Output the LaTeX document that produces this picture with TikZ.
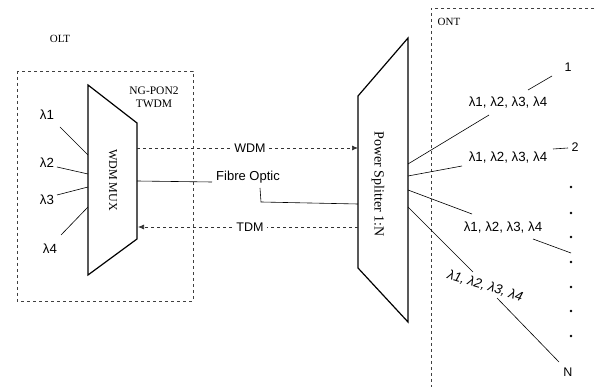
\documentclass[tikz,border=0pt]{standalone}
\usepackage{fontspec}
\setmainfont{Liberation Serif}
\setsansfont{Liberation Sans}
\usetikzlibrary{arrows.meta}
\begin{document}
\begin{tikzpicture}[x=1pt,y=-1pt,
 box/.style={draw=black!75,dashed,line width=0.7pt},
 dev/.style={draw,line width=1.2pt,line join=miter},
 thinline/.style={line width=0.6pt},
 sig/.style={draw=black!80,dashed,line width=0.7pt,-{Latex[length=6pt,width=5pt]}},
 lab/.style={font=\sffamily\fontsize{12.5}{12.5}\selectfont,inner sep=1pt},
 olab/.style={font=\sffamily\fontsize{13.3}{13.3}\selectfont,inner sep=1pt},
 ser/.style={font=\fontsize{11}{13}\selectfont,inner sep=0pt},
 dot/.style={circle,fill,inner sep=0pt,minimum size=2.6pt},
]
\useasboundingbox (0,0) rectangle (595,387);
% boxes
\draw[box] (17,71) rectangle (193,301);
\draw[box] (600,8) -- (431,8) -- (431,392);
\node[ser] (olt) at (60,39) {OLT};
\node[ser] (ont) at (449,22) {ONT};
\node[ser,align=center,font=\fontsize{11.5}{13}\selectfont] (ngpon) at (154,97) {NG-PON2\\TWDM};
% WDM MUX
\coordinate (m1) at (88,85);
\coordinate (m2) at (137,123);
\coordinate (m3) at (137,239);
\coordinate (m4) at (88,275);
\draw[dev] (m1) -- (m2) -- (m3) -- (m4) -- cycle;
\node[ser,rotate=-90,font=\fontsize{12}{12}\selectfont] (mux) at (113,180) {WDM MUX};
% Power splitter
\coordinate (s1) at (358,96);
\coordinate (s2) at (408,38);
\coordinate (s3) at (408,322);
\coordinate (s4) at (358,268);
\draw[dev] (s1) -- (s2) -- (s3) -- (s4) -- cycle;
\node[ser,rotate=-90,font=\fontsize{14}{14}\selectfont] (split) at (378,184) {Power Splitter 1:N};
% lambda inputs
\node[olab] (l1) at (47,115) {λ1};
\node[olab] (l2) at (47,163) {λ2};
\node[olab] (l3) at (47,200) {λ3};
\node[olab] (l4) at (50,249) {λ4};
\coordinate (l1a) at (60,127); \coordinate (l1b) at (88,155);
\coordinate (l2a) at (57,167); \coordinate (l2b) at (88,174);
\coordinate (l3a) at (57,195); \coordinate (l3b) at (88,187);
\coordinate (l4a) at (61,235); \coordinate (l4b) at (88,207);
\draw[thinline] (l1a) -- (l1b);
\draw[thinline] (l2a) -- (l2b);
\draw[thinline] (l3a) -- (l3b);
\draw[thinline] (l4a) -- (l4b);
% signals
\coordinate (w1) at (137,148); \coordinate (w2) at (358,148);
\draw[sig] (w1) -- (w2);
\node[lab,fill=white,inner sep=3pt] (wdm) at (250,148) {WDM};
\coordinate (t1) at (358,227); \coordinate (t2) at (138,227);
\draw[sig] (t1) -- (t2);
\node[lab,fill=white,inner sep=3pt] (tdm) at (250,227) {TDM};
% fibre optic
\node[lab,font=\sffamily\fontsize{13}{13}\selectfont] (fo) at (248,177) {Fibre Optic};
\coordinate (f1) at (137,181); \coordinate (f2) at (212,182);
\coordinate (f3) at (260,188); \coordinate (f4) at (261,202); \coordinate (f5) at (358,204);
\draw[thinline] (f1) -- (f2);
\draw[thinline] (f3) -- (f4) -- (f5);
% outputs
\node[olab] (o1) at (508,103) {λ1, λ2, λ3, λ4};
\node[olab] (o2) at (508,158) {λ1, λ2, λ3, λ4};
\node[olab] (o3) at (503,228) {λ1, λ2, λ3, λ4};
\node[olab,rotate=-17,font=\sffamily\itshape\fontsize{13.3}{13.3}\selectfont] (o4) at (485,286) {λ1, λ2, λ3, λ4};
\node[lab] (n1) at (568,67) {1};
\node[lab] (n2) at (575,147) {2};
\node[lab] (nn) at (568,372) {N};
\coordinate (a1) at (408,164); \coordinate (b1) at (489,115);
\coordinate (c1) at (528,90); \coordinate (d1) at (552,76);
\draw[thinline] (a1) -- (b1); \draw[thinline] (c1) -- (d1);
\coordinate (a2) at (408,176); \coordinate (b2) at (462,166);
\coordinate (c2) at (553,149); \coordinate (d2) at (568,148);
\draw[thinline] (a2) -- (b2); \draw[thinline] (c2) -- (d2);
\coordinate (a3) at (408,190); \coordinate (b3) at (472,214);
\coordinate (c3) at (533,239); \coordinate (d3) at (571,253);
\draw[thinline] (a3) -- (b3); \draw[thinline] (c3) -- (d3);
\coordinate (a4) at (408,207); \coordinate (b4) at (473,272);
\coordinate (c4) at (497,298); \coordinate (d4) at (559,362);
\draw[thinline] (a4) -- (b4); \draw[thinline] (c4) -- (d4);
\foreach \y [count=\i] in {187,213,237,262,287,311,336} \node[dot] (dot\i) at (571,\y) {};
\end{tikzpicture}
\end{document}
